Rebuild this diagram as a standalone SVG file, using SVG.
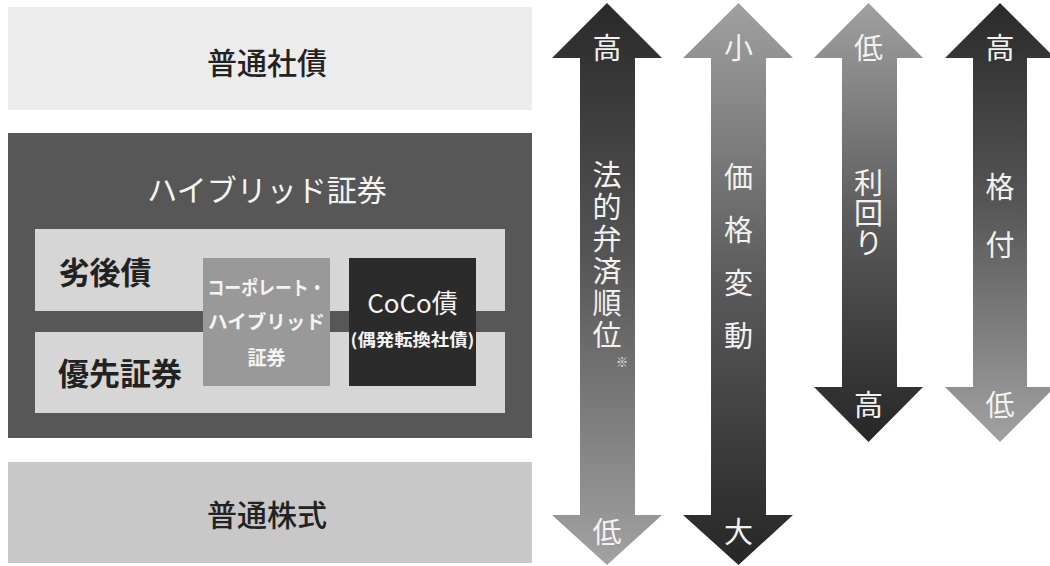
<svg xmlns="http://www.w3.org/2000/svg" width="1050" height="566" viewBox="0 0 1050 566">
<style>
text{font-family:"Noto Sans CJK JP","Noto Sans",sans-serif;text-anchor:middle}
.dk{fill:#222}
.wt{fill:#f4f4f4}
.b{font-weight:bold}
.m{font-weight:500}
.lbl{font-size:30px}
.ar{font-size:29px;fill:#f2f2f2}
.vt{font-size:29px;fill:#f2f2f2;writing-mode:vertical-rl;text-anchor:start}
</style>
<defs>
<linearGradient id="gDL" x1="0" y1="0" x2="0" y2="1"><stop offset="0" stop-color="#2a2a2a"/><stop offset="0.45" stop-color="#555"/><stop offset="1" stop-color="#a2a2a2"/></linearGradient>
<linearGradient id="gLD" x1="0" y1="0" x2="0" y2="1"><stop offset="0" stop-color="#a0a0a0"/><stop offset="0.5" stop-color="#5a5a5a"/><stop offset="1" stop-color="#262626"/></linearGradient>
</defs>
<g id="futsu-shasai">
<rect x="8" y="7" width="524" height="103" fill="#ececec"/>
<text class="dk lbl m" x="267" y="74">普通社債</text>
</g>
<g id="hybrid">
<rect x="8" y="133" width="524" height="305" fill="#575757"/>
<text class="wt lbl" x="267" y="201">ハイブリッド証券</text>
</g>
<g id="retsugo">
<rect x="35" y="229" width="470" height="82" fill="#d6d6d6"/>
<text class="dk b" x="105" y="284" font-size="31">劣後債</text>
</g>
<g id="yusen">
<rect x="35" y="332" width="470" height="81" fill="#d6d6d6"/>
<text class="dk b" x="120" y="385" font-size="31">優先証券</text>
</g>
<g id="corporate">
<rect x="203" y="258" width="127" height="128" fill="#999"/>
<text class="wt b" x="266.5" y="295" font-size="19" textLength="118" lengthAdjust="spacingAndGlyphs">コーポレート・</text>
<text class="wt b" x="266.5" y="329" font-size="19" textLength="117" lengthAdjust="spacingAndGlyphs">ハイブリッド</text>
<text class="wt b" x="266.5" y="365" font-size="19">証券</text>
</g>
<g id="coco">
<rect x="349" y="258" width="127" height="128" fill="#2b2b2b"/>
<text class="wt" x="412.5" y="313" font-size="26">CoCo債</text>
<text class="wt b" x="412.5" y="346" font-size="17" textLength="124" lengthAdjust="spacingAndGlyphs">(偶発転換社債)</text>
</g>
<g id="futsu-kabu">
<rect x="8" y="462" width="524" height="101" fill="#c8c8c8"/>
<text class="dk lbl m" x="267" y="526">普通株式</text>
</g>
<g id="connectors">
<g id="arrow-bensai">
<polygon points="607,3 662,58 635,58 635,515 662,515 607,565 552,515 580,515 580,58 552,58" fill="url(#gDL)"/>
<text class="ar" x="607" y="59">高</text>
<text class="vt" x="607" y="160" letter-spacing="3">法的弁済順位</text>
<text x="622" y="367" font-size="12" fill="#eee">※</text>
<text class="ar" x="607" y="543">低</text>
</g>
<g id="arrow-kakaku">
<polygon points="738.5,3 793,58 766,58 766,515 793,515 738.5,565 683,515 711,515 711,58 683,58" fill="url(#gLD)"/>
<text class="ar" x="738.5" y="59">小</text>
<text class="vt" x="738.5" y="162" letter-spacing="24">価格変動</text>
<text class="ar" x="738.5" y="543">大</text>
</g>
<g id="arrow-rimawari">
<polygon points="868.5,3 923,58 897,58 897,387 923,387 868.5,442 814,387 842,387 842,58 814,58" fill="url(#gLD)"/>
<text class="ar" x="868.5" y="59">低</text>
<text class="vt" x="868.5" y="168" letter-spacing="1">利回り</text>
<text class="ar" x="868.5" y="416">高</text>
</g>
<g id="arrow-kakuzuke">
<polygon points="1000,3 1055,58 1027,58 1027,387 1055,387 1000,442 945,387 973,387 973,58 945,58" fill="url(#gDL)"/>
<text class="ar" x="1000" y="59">高</text>
<text class="vt" x="1000" y="172" letter-spacing="29">格付</text>
<text class="ar" x="1000" y="416">低</text>
</g>
</g>
</svg>
